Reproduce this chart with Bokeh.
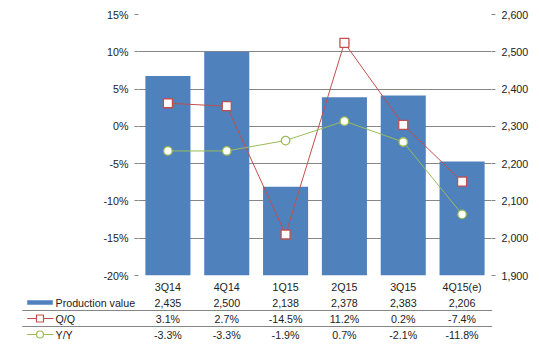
from bokeh.plotting import figure
from bokeh.models import (Range1d, LinearAxis, FixedTicker, PrintfTickFormatter, NumeralTickFormatter,
                          ColumnDataSource)
from bokeh.layouts import column
from bokeh.embed import file_html
from bokeh.resources import INLINE
from bokeh.core.properties import value

# ---------------- data ----------------
categories = ["3Q14", "4Q14", "1Q15", "2Q15", "3Q15", "4Q15(e)"]
production_value = [2435, 2500, 2138, 2378, 2383, 2206]
qoq = [3.1, 2.7, -14.5, 11.2, 0.2, -7.4]
yoy = [-3.3, -3.3, -1.9, 0.7, -2.1, -11.8]
series_names = ["Production value", "Q/Q", "Y/Y"]
pct_ticks = [-20, -15, -10, -5, 0, 5, 10, 15]
value_ticks = [1900, 2000, 2100, 2200, 2300, 2400, 2500, 2600]

# ---------------- style / layout ----------------
W = 539
TOP_H = 295
TAB_H = 350 - TOP_H
FL, FR, FT, FB = 138, 48, 14, 18
FONT = "Liberation Sans"
FS = "10.7px"
TXT = "#222222"
GRID = "#868686"
BLUE = "#4F81BD"
RED = "#C0504D"
GREEN = "#9BBB59"

xs = list(range(len(categories)))

p = figure(width=W, height=TOP_H, x_range=Range1d(-0.5, len(categories) - 0.5),
           y_range=Range1d(pct_ticks[0], pct_ticks[-1]),
           output_backend="svg", toolbar_location=None,
           min_border_left=FL, min_border_right=FR, min_border_top=FT, min_border_bottom=FB,
           outline_line_color=None, background_fill_color="white", border_fill_color="white")
p.frame_align = False
p.extra_y_ranges = {"pv": Range1d(value_ticks[0], value_ticks[-1])}

ly = p.yaxis[0]
ly.ticker = FixedTicker(ticks=pct_ticks)
ly.formatter = PrintfTickFormatter(format="%d%%")
ry = LinearAxis(y_range_name="pv", ticker=FixedTicker(ticks=value_ticks),
                formatter=NumeralTickFormatter(format="0,0"))
p.add_layout(ry, "right")
for ax in (ly, ry):
    ax.axis_line_color = None
    ax.major_tick_line_color = GRID
    ax.major_tick_out = 4
    ax.major_tick_in = 0
    ax.minor_tick_line_color = None
    ax.major_label_text_font = FONT
    ax.major_label_text_font_size = FS
    ax.major_label_text_color = TXT
    ax.major_label_standoff = 6

xa = p.xaxis[0]
xa.ticker = FixedTicker(ticks=xs)
xa.major_label_overrides = {i: c for i, c in zip(xs, categories)}
xa.axis_line_color = None
xa.major_tick_line_color = None
xa.major_tick_out = 0
xa.major_tick_in = 0
xa.minor_tick_line_color = None
xa.major_label_standoff = 5
xa.major_label_text_font = FONT
xa.major_label_text_font_size = FS
xa.major_label_text_color = TXT

p.xgrid.visible = False
p.ygrid.grid_line_color = GRID
p.ygrid.grid_line_width = 1

p.vbar(x=xs, top=production_value, bottom=value_ticks[0], width=0.766,
       fill_color=BLUE, line_color=None, y_range_name="pv")
p.line(xs, qoq, line_color=RED, line_width=1)
p.line(xs, yoy, line_color=GREEN, line_width=1)
p.scatter(xs, qoq, marker="square", size=9, fill_color="white", line_color=RED, line_width=1.3)
p.scatter(xs, yoy, marker="circle", size=8.5, fill_color="white", line_color=GREEN, line_width=1.3)

# ---------------- data table ----------------
unit = (W - FL - FR) / len(categories)
x0 = -0.5 - FL / unit
x1 = len(categories) - 0.5 + FR / unit


def px2x(px):
    return x0 + px / unit


t = figure(width=W, height=TAB_H, x_range=Range1d(x0, x1), y_range=Range1d(TAB_H, 0),
           output_backend="svg", toolbar_location=None, x_axis_location=None,
           y_axis_location=None, min_border=0, outline_line_color=None,
           background_fill_color="white", border_fill_color="white")
t.frame_align = False
t.grid.visible = False

ROW_Y = [302.0 - TOP_H, 318.0 - TOP_H, 334.0 - TOP_H]
DIV_Y = [310 - TOP_H, 326 - TOP_H]

tab = ColumnDataSource(dict(
    x=xs,
    pv=[f"{v:,}" for v in production_value],
    qq=[f"{v:.1f}%" for v in qoq],
    yy=[f"{v:.1f}%" for v in yoy],
))
for col, yy in zip(["pv", "qq", "yy"], ROW_Y):
    t.text(x="x", y=yy, text=col, source=tab, text_align="center", text_baseline="middle",
           text_font=value(FONT), text_font_size=value(FS), text_color=TXT)

for dy in DIV_Y:
    t.segment(x0=px2x(21.7), x1=px2x(491.7), y0=dy, y1=dy, line_color=GRID, line_width=1)

# legend keys
t.quad(left=px2x(26.7), right=px2x(52.3), top=ROW_Y[0] - 2.2, bottom=ROW_Y[0] + 2.2,
       fill_color=BLUE, line_color=None)
t.segment(x0=px2x(26.7), x1=px2x(53), y0=ROW_Y[1], y1=ROW_Y[1], line_color=RED, line_width=1)
t.scatter([px2x(39.5)], [ROW_Y[1]], marker="square", size=7, fill_color="white",
          line_color=RED, line_width=1.2)
t.segment(x0=px2x(26.7), x1=px2x(53), y0=ROW_Y[2], y1=ROW_Y[2], line_color=GREEN, line_width=1)
t.scatter([px2x(39.5)], [ROW_Y[2]], marker="circle", size=7, fill_color="white",
          line_color=GREEN, line_width=1.2)
t.text(x=[px2x(55)] * 3, y=ROW_Y, text=series_names, text_align="left",
       text_baseline="middle", text_font=value(FONT), text_font_size=value(FS), text_color=TXT)

layout = column(p, t, spacing=0)
open("out.html", "w").write(file_html(layout, INLINE))
